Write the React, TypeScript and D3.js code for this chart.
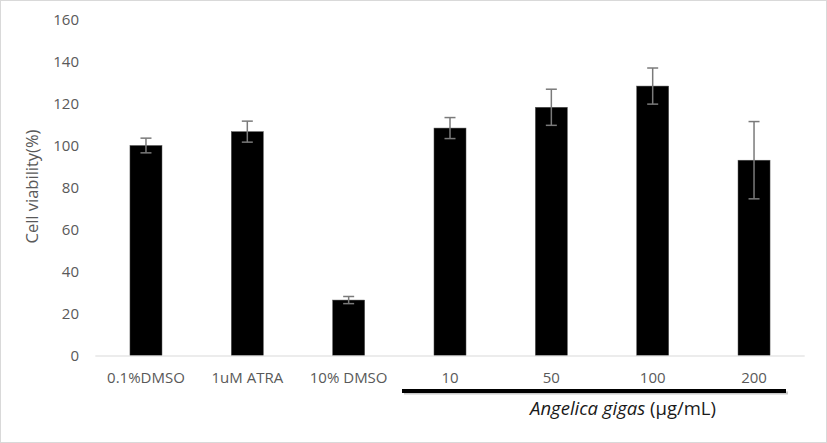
import React, { useEffect, useRef } from 'react';
import * as d3 from 'd3';

const categories = ['0.1%DMSO', '1uM ATRA', '10% DMSO', '10', '50', '100', '200'];
const viability = [100, 106.6, 26.4, 108.3, 118.2, 128.3, 93];
const errors = [3.5, 5, 1.7, 5, 8.6, 8.6, 18.4];
const yTicks = [0, 20, 40, 60, 80, 100, 120, 140, 160];
const groupLabel = 'Angelica gigas';
const groupUnit = ' (μg/mL)';

const W = 827;
const H = 443;

const App: React.FC = () => {
  const svgRef = useRef<SVGSVGElement>(null);

  useEffect(() => {
    document.body.style.margin = '0';
    if (!svgRef.current) return;

    d3.select(svgRef.current).selectAll('*').remove();
    const svg = d3.select(svgRef.current);

    const font = 'Open Sans, Lato, sans-serif';

    // chart frame
    svg.append('rect')
      .attr('x', 0.5).attr('y', 0.5)
      .attr('width', W - 1).attr('height', H - 1)
      .attr('fill', '#fff')
      .attr('stroke', '#d9d9d9');

    const x = d3.scaleBand()
      .domain(categories)
      .range([95.3, 804.7])
      .paddingInner(0.684)
      .paddingOuter(0.342);

    const y = d3.scaleLinear()
      .domain([0, 160])
      .range([355.5, 19.5]);

    // y tick labels
    svg.append('g')
      .selectAll('text')
      .data(yTicks)
      .enter()
      .append('text')
      .attr('x', 79)
      .attr('y', d => y(d))
      .attr('dy', '0.35em')
      .attr('text-anchor', 'end')
      .attr('font-family', font)
      .attr('font-size', 15)
      .attr('fill', '#595959')
      .text(d => d);

    // y title
    svg.append('text')
      .attr('transform', `translate(32,${y(80) - 1}) rotate(-90)`)
      .attr('text-anchor', 'middle')
      .attr('dy', '0.35em')
      .attr('font-family', font)
      .attr('font-size', 16.5)
      .attr('fill', '#595959')
      .text('Cell viability(%)');

    // bars
    svg.selectAll('.bar')
      .data(categories)
      .enter()
      .append('rect')
      .attr('class', 'bar')
      .attr('x', d => x(d) || 0)
      .attr('width', x.bandwidth())
      .attr('y', (d, i) => y(viability[i]))
      .attr('height', (d, i) => y(0) - y(viability[i]))
      .attr('fill', '#000')
      .attr('stroke', '#555')
      .attr('stroke-width', 0.5);

    // baseline
    svg.append('line')
      .attr('x1', 95.3).attr('x2', 804.7)
      .attr('y1', y(0) + 0.5).attr('y2', y(0) + 0.5)
      .attr('stroke', '#d9d9d9')
      .attr('stroke-width', 1);

    // error bars
    const err = svg.append('g')
      .attr('stroke', '#7a7a7a')
      .attr('stroke-width', 1.5);
    categories.forEach((c, i) => {
      const cx = (x(c) || 0) + x.bandwidth() / 2;
      const top = y(viability[i] + errors[i]);
      const bot = y(viability[i] - errors[i]);
      err.append('line').attr('x1', cx).attr('x2', cx).attr('y1', top).attr('y2', bot);
      err.append('line').attr('x1', cx - 5.5).attr('x2', cx + 5.5).attr('y1', top).attr('y2', top);
      err.append('line').attr('x1', cx - 5.5).attr('x2', cx + 5.5).attr('y1', bot).attr('y2', bot);
    });

    // category labels
    svg.append('g')
      .selectAll('text')
      .data(categories)
      .enter()
      .append('text')
      .attr('x', d => (x(d) || 0) + x.bandwidth() / 2)
      .attr('y', 377.5)
      .attr('dy', '0.35em')
      .attr('text-anchor', 'middle')
      .attr('font-family', font)
      .attr('font-size', 15)
      .attr('fill', '#595959')
      .text(d => d);

    // group bracket under the extract doses
    svg.append('rect')
      .attr('x', 404).attr('y', 391.5)
      .attr('width', 384).attr('height', 3)
      .attr('fill', '#c8c8c8');
    svg.append('rect')
      .attr('x', 402).attr('y', 389)
      .attr('width', 384).attr('height', 4)
      .attr('fill', '#000');

    const g = svg.append('text')
      .attr('x', 623)
      .attr('y', 415)
      .attr('text-anchor', 'middle')
      .attr('font-family', font)
      .attr('font-size', 18.5)
      .attr('fill', '#1a1a1a');
    g.append('tspan').attr('font-style', 'italic').text(groupLabel);
    g.append('tspan').text(groupUnit);
  }, []);

  return (
    <svg ref={svgRef} width={W} height={H} style={{ display: 'block' }}></svg>
  );
};

export default App;
